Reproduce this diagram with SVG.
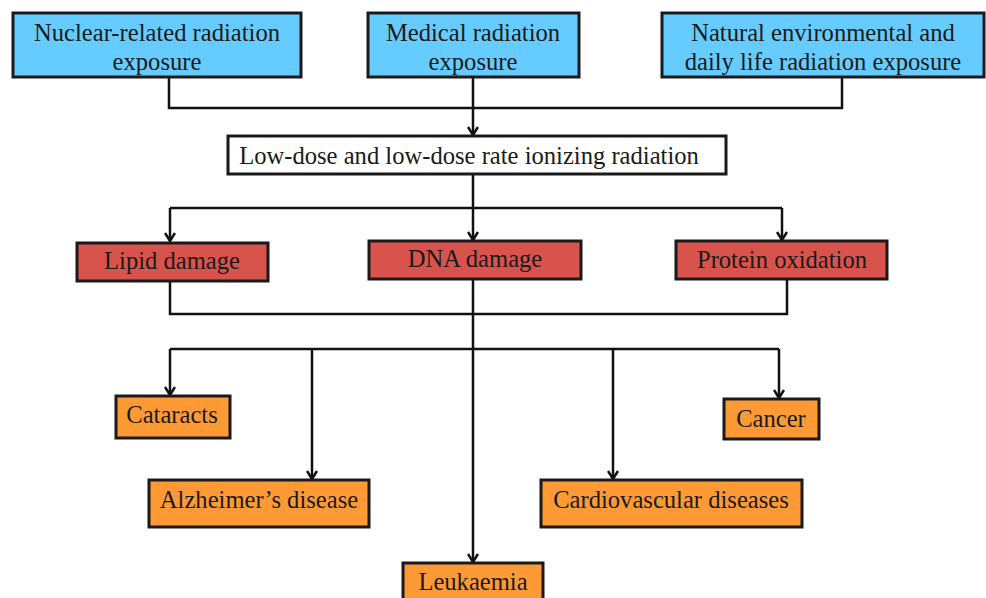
<svg xmlns="http://www.w3.org/2000/svg" width="986" height="598" viewBox="0 0 986 598">
<defs>
<style>
.box{stroke:#1a1a1a;stroke-width:3}
.blue{fill:#66CCFF}
.red{fill:#D9534D}
.org{fill:#FD9A35}
.white{fill:#FFFFFF}
.t{font-family:"Liberation Serif","Times New Roman",serif;font-size:24.6px;fill:#1a1a1a;text-anchor:middle}
.c{fill:none;stroke:#111;stroke-width:2.5}
</style>
<marker id="ah" viewBox="0 0 10 12" refX="9" refY="6" markerWidth="10" markerHeight="12" markerUnits="userSpaceOnUse" orient="auto">
<polyline points="1,1 9,6 1,11" fill="none" stroke="#111" stroke-width="2.5"/>
</marker>
</defs>
<rect width="986" height="598" fill="#fff"/>
<g id="connectors">
<polyline class="c" points="169,77 169,108 842,108 842,77"/>
<line class="c" x1="473" y1="77" x2="473" y2="135" marker-end="url(#ah)"/>
<line class="c" x1="473" y1="174" x2="473" y2="208"/>
<polyline class="c" points="170,208 782,208"/>
<line class="c" x1="782" y1="208" x2="782" y2="240" marker-end="url(#ah)"/>
<line class="c" x1="170" y1="208" x2="170" y2="241" marker-end="url(#ah)"/>
<line class="c" x1="473" y1="208" x2="473" y2="240" marker-end="url(#ah)"/>
<polyline class="c" points="170,281 170,314 787,314 787,279"/>
<line class="c" x1="473" y1="279" x2="473" y2="349"/>
<polyline class="c" points="170,349 779,349"/>
<line class="c" x1="170" y1="349" x2="170" y2="395" marker-end="url(#ah)"/>
<line class="c" x1="312" y1="349" x2="312" y2="479" marker-end="url(#ah)"/>
<line class="c" x1="473" y1="349" x2="473" y2="562" marker-end="url(#ah)"/>
<line class="c" x1="613" y1="349" x2="613" y2="479" marker-end="url(#ah)"/>
<line class="c" x1="779" y1="349" x2="779" y2="398" marker-end="url(#ah)"/>
</g>
<g id="nuclear">
<rect class="box blue" x="13" y="13" width="288" height="64"/>
<text class="t" x="157" y="41">Nuclear-related radiation</text>
<text class="t" x="157" y="70">exposure</text>
</g>
<g id="medical">
<rect class="box blue" x="368" y="13" width="211" height="64"/>
<text class="t" x="473" y="41">Medical radiation</text>
<text class="t" x="473" y="70">exposure</text>
</g>
<g id="natural">
<rect class="box blue" x="662" y="13" width="322" height="64"/>
<text class="t" x="823" y="41">Natural environmental and</text>
<text class="t" x="823" y="70">daily life radiation exposure</text>
</g>
<g id="lowdose">
<rect class="box white" x="228" y="136" width="498" height="38"/>
<text class="t" x="469" y="164">Low-dose and low-dose rate ionizing radiation</text>
</g>
<g id="lipid">
<rect class="box red" x="77" y="243" width="191" height="38"/>
<text class="t" x="172" y="269">Lipid damage</text>
</g>
<g id="dna">
<rect class="box red" x="369" y="241" width="212" height="38"/>
<text class="t" x="475" y="267">DNA damage</text>
</g>
<g id="protein">
<rect class="box red" x="676" y="241" width="211" height="38"/>
<text class="t" x="782" y="268">Protein oxidation</text>
</g>
<g id="cataracts">
<rect class="box org" x="116" y="396" width="114" height="42"/>
<text class="t" x="172" y="423">Cataracts</text>
</g>
<g id="cancer">
<rect class="box org" x="724" y="399" width="95" height="40"/>
<text class="t" x="771" y="427">Cancer</text>
</g>
<g id="alzheimers">
<rect class="box org" x="149" y="480" width="220" height="47"/>
<text class="t" x="259" y="508">Alzheimer’s disease</text>
</g>
<g id="cardiovascular">
<rect class="box org" x="541" y="480" width="261" height="47"/>
<text class="t" x="671" y="508">Cardiovascular diseases</text>
</g>
<g id="leukaemia">
<rect class="box org" x="403" y="563" width="140" height="45"/>
<text class="t" x="473" y="590">Leukaemia</text>
</g>
</svg>
